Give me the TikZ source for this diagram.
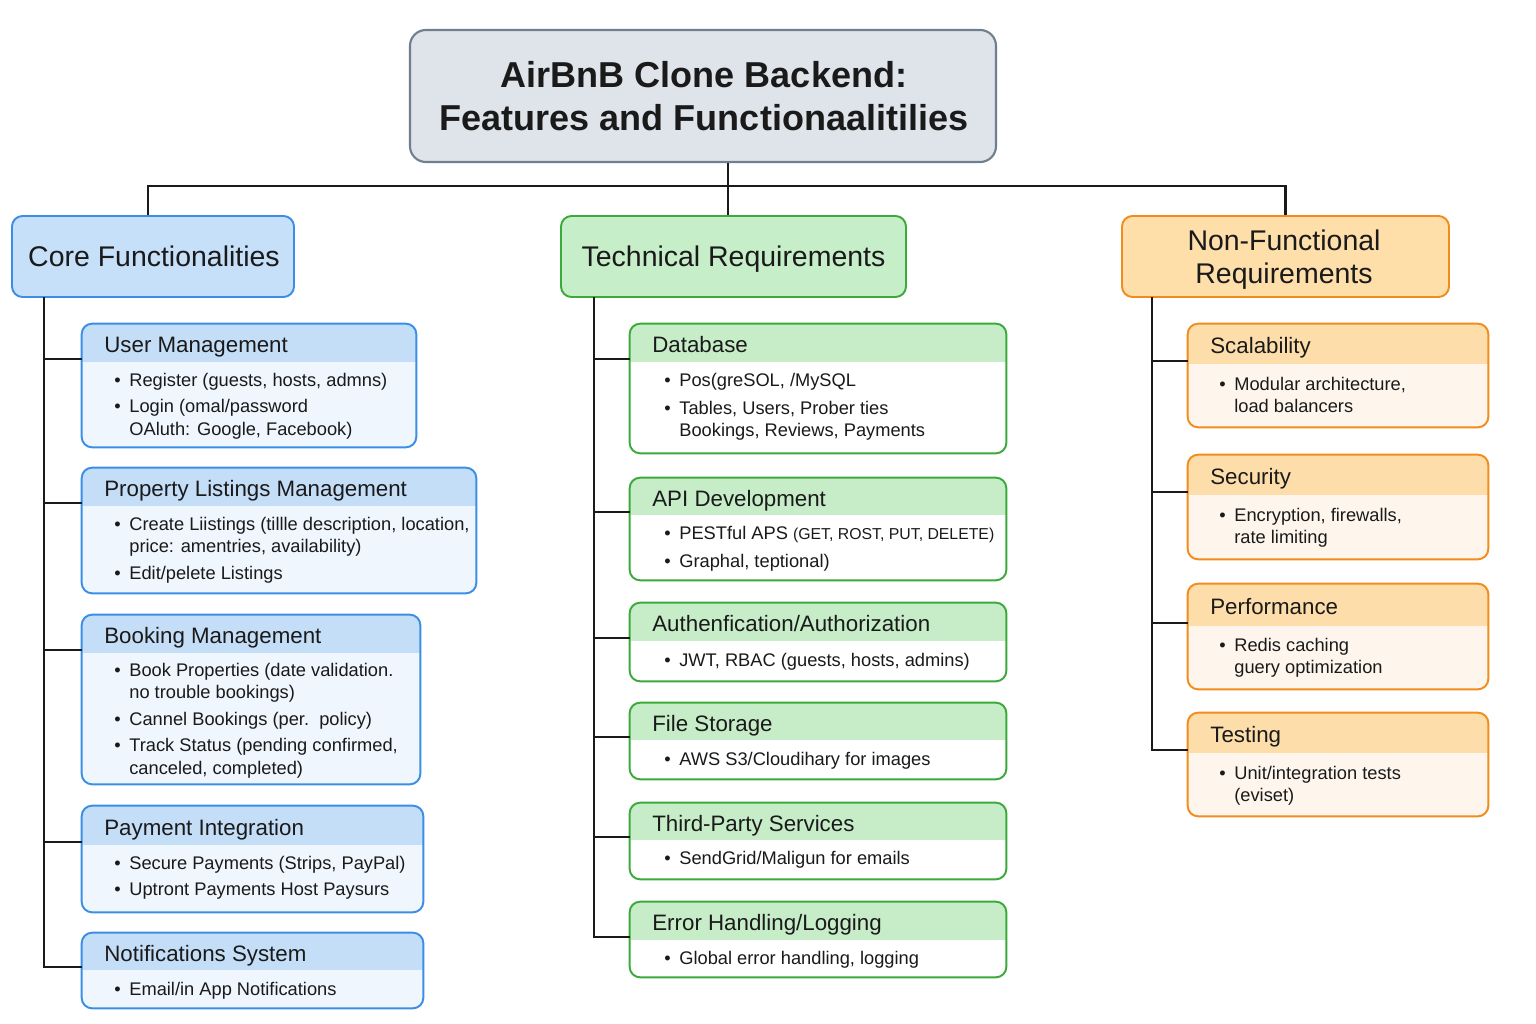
\documentclass[tikz,border=0pt]{standalone}
\usepackage{fontspec}
\setmainfont{Liberation Sans}
\usetikzlibrary{fit}
\definecolor{tFill}{HTML}{DFE4EB}
\definecolor{tLine}{HTML}{6F7F90}
\definecolor{bCat}{HTML}{C6E0FA}
\definecolor{bLineC}{HTML}{3A8EE6}
\definecolor{bHeadC}{HTML}{C5DEF8}
\definecolor{bBodyC}{HTML}{EFF6FE}
\definecolor{gCat}{HTML}{C6EEC8}
\definecolor{gLineC}{HTML}{3BAA3B}
\definecolor{gHeadC}{HTML}{C6EDC8}
\definecolor{gBodyC}{HTML}{FFFFFF}
\definecolor{oCat}{HTML}{FEDEA9}
\definecolor{oLineC}{HTML}{F28C1C}
\definecolor{oHeadC}{HTML}{FDDEAA}
\definecolor{oBodyC}{HTML}{FEF6EC}
\definecolor{ink}{HTML}{1A1A1A}
\tikzset{
  conn/.style={draw=ink, line width=1.2pt},
  boxline/.style={line width=1.1pt, rounded corners=6pt},
  headtxt/.style={font=\fontsize{12.7}{15}\selectfont, inner sep=0pt, text=ink},
  bodytxt/.style={font=\fontsize{10.4}{12.7}\selectfont, inner sep=0pt, text=ink},
  cattxt/.style={font=\fontsize{16.2}{18.7}\selectfont, inner sep=0pt, text=ink},
  bhead/.style={fill=bHeadC}, bbody/.style={fill=bBodyC}, bline/.style={draw=bLineC},
  ghead/.style={fill=gHeadC}, gbody/.style={fill=gBodyC}, gline/.style={draw=gLineC},
  ohead/.style={fill=oHeadC}, obody/.style={fill=oBodyC}, oline/.style={draw=oLineC},
}
% #1 name, #2 colour prefix, #3 x1, #4 y1, #5 x2, #6 y2, #7 header bottom, #8 title
\newcommand\featbox[8]{%
  \node[fit={(#3,#4)(#5,#6)}, inner sep=0pt, rounded corners=6pt, #2body] (#1) {};
  \begin{scope}
    \clip[rounded corners=6pt] (#3,#4) rectangle (#5,#6);
    \fill[#2head] (#3,#4) rectangle (#5,#7);
  \end{scope}
  \draw[#2line, boxline] (#1.north west) rectangle (#1.south east);
  \node[headtxt, anchor=base west] (#1-t) at (#3+22,{(#4+#7)/2+9.5}) {#8};
  \coordinate (#1-in) at (#3,#7-3);
}
% #1 name, #2 x, #3 baseline y, #4 rows
\newcommand\featbody[4]{%
  \node[bodytxt, anchor=base west] (#1-b) at (#2,#3)
    {\begin{tabular}[t]{@{}l@{\hspace{4.9pt}}l@{}}#4\end{tabular}};
}
\newcommand\bl{\textbullet &}
\begin{document}
\begin{tikzpicture}[x=0.02cm, y=-0.02cm]
\useasboundingbox[fill=white] (0,0) rectangle (1536,1024);

% title
\node[fit={(410,30)(996,162)}, inner sep=0pt, rounded corners=9pt, fill=tFill, draw=tLine, line width=1.2pt] (title) {};
\node[inner sep=0pt, anchor=base, font=\fontsize{20.5}{24.4}\selectfont\bfseries, text=ink] (title-t) at (704,88)
  {\begin{tabular}[t]{@{}c@{}}AirBnB Clone Backend:\\Features and Functionaalitilies\end{tabular}};

% categories
\node[fit={(12,216)(294,297)}, inner sep=0pt, rounded corners=6pt, fill=bCat, draw=bLineC, line width=1.1pt] (core) {};
\node[cattxt, anchor=base] (core-t) at (154,266) {Core Functionalities};
\node[fit={(561,216)(906,297)}, inner sep=0pt, rounded corners=6pt, fill=gCat, draw=gLineC, line width=1.1pt] (tech) {};
\node[cattxt, anchor=base] (tech-t) at (733.5,266) {Technical Requirements};
\node[fit={(1122,216)(1449,297)}, inner sep=0pt, rounded corners=6pt, fill=oCat, draw=oLineC, line width=1.1pt] (nonf) {};
\node[cattxt, anchor=base] (nonf-t) at (1284,251) {\begin{tabular}[t]{@{}c@{}}Non-Functional\\Requirements\end{tabular}};

% top connectors
\coordinate (hub) at (728,186);
\draw[conn] (hub |- title.south) -- (hub |- tech.north);
\draw[conn] ([xshift=-0.1cm]core.north) |- (hub) -| (nonf.north);

% core boxes
\featbox{um}{b}{82}{324}{416}{447}{362}{User Management}
\featbody{um}{114}{386}{\bl Register (guests, hosts, admns)\\[2.5pt]
  \bl Login (omal/password\\ & OAluth: Google, Facebook)}
\featbox{pl}{b}{82}{468}{476}{593}{506}{Property Listings Management}
\featbody{pl}{114}{530}{\bl Create Liistings (tillle description, location,\\ & price: amentries, availability)\\[2.5pt]
  \bl Edit/pelete Listings}
\featbox{bm}{b}{82}{615}{420}{784}{653}{Booking Management}
\featbody{bm}{114}{676}{\bl Book Properties (date validation.\\ & no trouble bookings)\\[2.5pt]
  \bl Cannel Bookings (per.\ \ policy)\\[2.5pt]
  \bl Track Status (pending confirmed,\\ & canceled, completed)}
\featbox{pi}{b}{82}{806}{423}{912}{845}{Payment Integration}
\featbody{pi}{114}{869}{\bl Secure Payments (Strips, PayPal)\\[2.5pt]
  \bl Uptront Payments Host Paysurs}
\featbox{ns}{b}{82}{933}{423}{1008}{970}{Notifications System}
\featbody{ns}{114}{995}{\bl Email/in App Notifications}

% technical boxes
\featbox{db}{g}{630}{324}{1006}{453}{362}{Database}
\featbody{db}{664}{386}{\bl Pos(greSOL, /MySQL\\[3.5pt]
  \bl Tables, Users, Prober ties\\ & Bookings, Reviews, Payments}
\featbox{api}{g}{630}{478}{1006}{580}{515}{API Development}
\featbody{api}{664}{539}{\bl PESTful APS {\fontsize{9.0}{12.5}\selectfont(GET, ROST, PUT, DELETE)}\\[3.5pt]
  \bl Graphal, teptional)}
\featbox{au}{g}{630}{603}{1006}{681}{641}{Authenfication/Authorization}
\featbody{au}{664}{666}{\bl JWT, RBAC (guests, hosts, admins)}
\featbox{fs}{g}{630}{703}{1006}{779}{740}{File Storage}
\featbody{fs}{664}{765}{\bl AWS S3/Cloudihary for images}
\featbox{tp}{g}{630}{803}{1006}{879}{840}{Third-Party Services}
\featbody{tp}{664}{864}{\bl SendGrid/Maligun for emails}
\featbox{eh}{g}{630}{902}{1006}{977}{940}{Error Handling/Logging}
\featbody{eh}{664}{964}{\bl Global error handling, logging}

% non-functional boxes
\featbox{sc}{o}{1188}{324}{1488}{427}{364}{Scalability}
\featbody{sc}{1219}{390}{\bl Modular architecture,\\ & load balancers}
\featbox{se}{o}{1188}{455}{1488}{559}{495}{Security}
\featbody{se}{1219}{521}{\bl Encryption, firewalls,\\ & rate limiting}
\featbox{pf}{o}{1188}{584}{1488}{689}{626}{Performance}
\featbody{pf}{1219}{651}{\bl Redis caching\\ & guery optimization}
\featbox{ts}{o}{1188}{713}{1488}{816}{753}{Testing}
\featbody{ts}{1219}{779}{\bl Unit/integration tests\\ & (eviset)}

% trunks
\coordinate (coreTrunk) at (44,297);
\coordinate (techTrunk) at (594,297);
\coordinate (nonfTrunk) at (1152,297);
\foreach \b in {um,pl,bm,pi,ns} \draw[conn] (coreTrunk) |- (\b-in);
\foreach \b in {db,api,au,fs,tp,eh} \draw[conn] (techTrunk) |- (\b-in);
\foreach \b in {sc,se,pf,ts} \draw[conn] (nonfTrunk) |- (\b-in);
\end{tikzpicture}
\end{document}
